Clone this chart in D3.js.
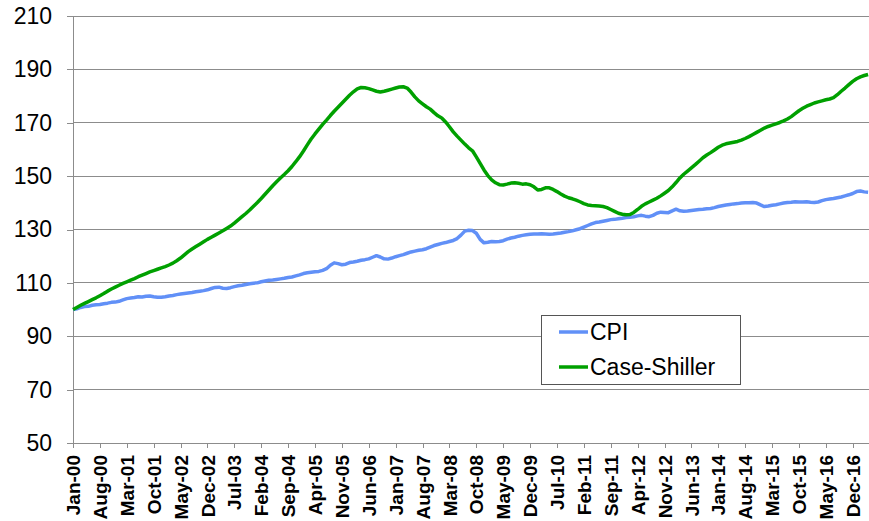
<!DOCTYPE html>
<html lang="en">
 <head>
  <title>CPI vs Case-Shiller</title>
<meta charset="utf-8">

<!-- Load d3.js -->
<script src="https://d3js.org/d3.v7.min.js"></script>

<style>
	body {
		margin: 0;
		background: #fff;
		font-family: 'Liberation Sans', Arial, sans-serif;
	}
	.yaxis text {
		font-size: 23px;
		fill: #000;
	}
	.xaxis text {
		font-size: 19px;
		font-weight: bold;
		fill: #000;
	}
	.legend text {
		font-size: 23px;
		fill: #000;
	}
</style>
</head>
<body>
<div id="my_dataviz"></div>

<script>

// x tick labels, one every 7 months starting Jan-00
var tickLabels = ["Jan-00","Aug-00","Mar-01","Oct-01","May-02","Dec-02","Jul-03","Feb-04",
	"Sep-04","Apr-05","Nov-05","Jun-06","Jan-07","Aug-07","Mar-08","Oct-08","May-09",
	"Dec-09","Jul-10","Feb-11","Sep-11","Apr-12","Nov-12","Jun-13","Jan-14","Aug-14",
	"Mar-15","Oct-15","May-16","Dec-16"];

var yTicks = [50, 70, 90, 110, 130, 150, 170, 190, 210];

var seriesNames = ["CPI", "Case-Shiller"];

// monthly index values, Jan-00 = 100
var cpi = [
	100.0,100.3,100.8,101.1,101.2,101.6,101.8,101.9,102.2,102.4,102.7,102.8,
	103.1,103.6,104.1,104.3,104.5,104.8,104.7,105.0,105.1,104.8,104.6,104.6,
	104.8,105.1,105.3,105.6,105.8,106.0,106.2,106.4,106.7,106.9,107.1,107.4,
	107.9,108.3,108.4,108.0,107.9,108.2,108.6,108.9,109.1,109.4,109.7,109.9,
	110.0,110.4,110.7,111.0,111.1,111.3,111.5,111.7,112.0,112.2,112.6,113.0,
	113.5,113.8,114.0,114.2,114.3,114.7,115.3,116.6,117.5,117.2,116.8,117.0,
	117.6,117.8,118.1,118.5,118.7,119.0,119.6,120.2,119.7,119.0,118.9,119.3,
	119.8,120.2,120.6,121.1,121.6,121.9,122.2,122.4,122.8,123.4,124.0,124.4,
	124.8,125.1,125.5,125.9,126.6,127.9,129.4,129.7,129.6,128.6,126.3,125.0,
	125.2,125.5,125.4,125.5,125.8,126.4,126.8,127.1,127.5,127.8,128.0,128.2,
	128.3,128.3,128.4,128.3,128.2,128.3,128.5,128.7,129.0,129.2,129.5,129.9,
	130.3,130.9,131.5,132.1,132.6,132.8,133.1,133.4,133.7,133.8,134.0,134.2,
	134.5,134.6,134.8,135.1,135.3,135.0,134.8,135.3,136.1,136.5,136.4,136.3,
	137.0,137.6,137.0,136.8,136.9,137.1,137.3,137.5,137.6,137.8,137.9,138.2,
	138.6,138.9,139.2,139.4,139.6,139.7,139.9,140.0,140.0,140.1,139.9,139.2,
	138.6,138.8,139.1,139.3,139.6,139.9,140.1,140.2,140.4,140.3,140.3,140.4,
	140.2,140.1,140.3,140.8,141.2,141.4,141.6,141.9,142.2,142.6,143.0,143.5,
	144.2,144.4,144.1,144.0];

var caseShiller = [
	100.0,100.8,101.6,102.3,103.0,103.7,104.4,105.2,106.0,106.9,107.7,108.4,
	109.1,109.8,110.4,111.0,111.6,112.3,112.9,113.5,114.1,114.6,115.1,115.6,
	116.1,116.7,117.4,118.3,119.3,120.5,121.7,122.7,123.6,124.5,125.4,126.3,
	127.1,127.9,128.7,129.5,130.4,131.3,132.4,133.6,134.8,136.0,137.3,138.7,
	140.1,141.6,143.2,144.8,146.4,147.9,149.3,150.6,152.0,153.6,155.4,157.3,
	159.4,161.7,163.9,165.8,167.6,169.4,171.0,172.7,174.3,175.8,177.3,178.8,
	180.3,181.6,182.7,183.2,183.1,182.8,182.3,181.8,181.5,181.8,182.2,182.6,
	183.0,183.4,183.5,183.0,181.5,179.7,178.2,177.1,176.0,175.1,173.8,172.6,
	171.8,170.3,168.5,166.6,165.0,163.5,162.0,160.6,159.5,157.2,154.8,152.3,
	150.2,148.6,147.5,146.8,146.7,147.0,147.4,147.5,147.3,147.0,147.1,146.8,
	146.0,144.8,145.0,145.6,145.6,145.0,144.2,143.3,142.5,141.9,141.5,141.0,
	140.4,139.7,139.2,139.0,138.9,138.8,138.6,138.2,137.5,136.8,136.1,135.7,
	135.5,135.6,136.4,137.5,138.7,139.6,140.3,141.0,141.7,142.6,143.6,144.6,
	146.0,147.6,149.3,150.7,151.9,153.1,154.3,155.6,156.9,157.9,158.8,159.8,
	160.8,161.6,162.1,162.4,162.7,163.0,163.5,164.1,164.8,165.6,166.4,167.2,
	168.0,168.6,169.1,169.6,170.1,170.7,171.4,172.3,173.4,174.5,175.4,176.2,
	176.8,177.4,177.8,178.2,178.6,178.9,179.4,180.5,181.8,183.0,184.3,185.5,
	186.5,187.2,187.7,188.1];

var colours = { cpi : "#6190f7", cs : "#00a000", grid : "#8c8c8c" };

// set the dimensions and margins of the graph
var margin = {top: 16, right: 0, bottom: 78, left: 73},
    width = 869 - margin.left - margin.right,
    height = 521 - margin.top - margin.bottom;

// append the svg object to the body of the page
var svg = d3.select("#my_dataviz")
  .append("svg")
    .attr("width", 869)
    .attr("height", 521)
  .append("g")
    .attr("transform", "translate(" + margin.left + "," + margin.top + ")");

// month index scale (0 = Jan-00), 7 months per label
var x = d3.scaleLinear()
  .domain([0, 208])
  .range([0, 208 * 3.841]);

var y = d3.scaleLinear()
  .domain([50, 210])
  .range([height, 0]);

// horizontal gridlines
svg.append("g")
  .selectAll("line")
  .data(yTicks.slice(1))
  .enter()
  .append("line")
    .attr("x1", 0)
    .attr("x2", width)
    .attr("y1", function(d) { return y(d) })
    .attr("y2", function(d) { return y(d) })
    .attr("stroke", colours.grid)
    .attr("stroke-width", 1)
    .attr("shape-rendering", "crispEdges");

// Y axis
var yAxis = svg.append("g")
  .attr("class", "yaxis")
  .call(d3.axisLeft(y).tickValues(yTicks).tickSize(6).tickPadding(15).tickSizeOuter(0));

// X axis
var xAxis = svg.append("g")
  .attr("class", "xaxis")
  .attr("transform", "translate(0," + height + ")")
  .call(d3.axisBottom(x)
    .tickValues(tickLabels.map(function(d, i) { return i * 7 }))
    .tickFormat(function(d) { return tickLabels[d / 7] })
    .tickSize(5)
    .tickSizeOuter(0));

xAxis.selectAll("text")
  .attr("transform", "rotate(-90)")
  .attr("text-anchor", "end")
  .attr("x", -12)
  .attr("y", 0)
  .attr("dy", "0.35em");

svg.selectAll(".domain, .tick line")
  .attr("stroke", colours.grid)
  .attr("shape-rendering", "crispEdges");
svg.selectAll(".xaxis, .yaxis").attr("font-family", null).attr("font-size", null);

// the two lines
var line = d3.line()
  .x(function(d, i) { return x(i) })
  .y(function(d) { return y(d) });

svg.append("path")
  .datum(cpi)
  .attr("d", line)
  .attr("fill", "none")
  .attr("stroke", colours.cpi)
  .attr("stroke-width", 3.5)
  .attr("stroke-linejoin", "round");

svg.append("path")
  .datum(caseShiller)
  .attr("d", line)
  .attr("fill", "none")
  .attr("stroke", colours.cs)
  .attr("stroke-width", 3.5)
  .attr("stroke-linejoin", "round");

// legend
var legend = d3.select("svg").append("g")
  .attr("class", "legend")
  .attr("transform", "translate(541,315)");

legend.append("rect")
  .attr("x", 0.5)
  .attr("y", 0.5)
  .attr("width", 199)
  .attr("height", 69)
  .attr("fill", "#fff")
  .attr("stroke", "#555");

var legendItems = legend.selectAll(".item")
  .data(seriesNames)
  .enter()
  .append("g")
    .attr("class", "item")
    .attr("transform", function(d, i) { return "translate(0," + (17 + i * 35) + ")" });

legendItems.append("line")
  .attr("x1", 18)
  .attr("x2", 47)
  .attr("stroke", function(d, i) { return i == 0 ? colours.cpi : colours.cs })
  .attr("stroke-width", 3.5);

legendItems.append("text")
  .attr("x", 49)
  .attr("y", 8)
  .text(function(d) { return d });

</script>
</body>
</html>
